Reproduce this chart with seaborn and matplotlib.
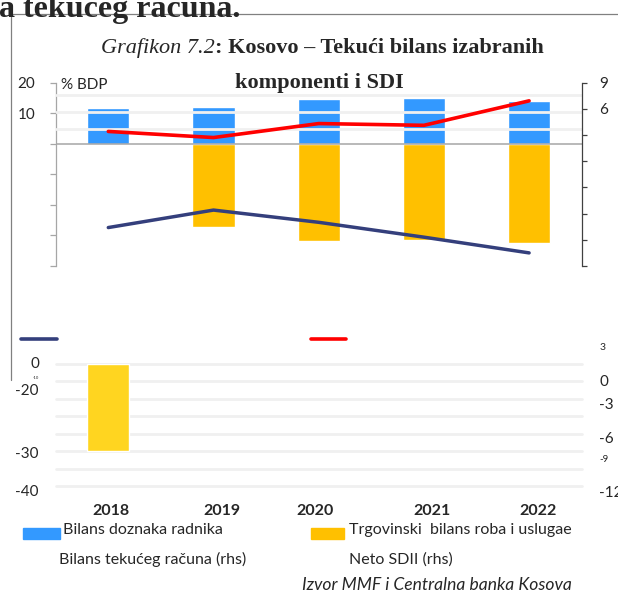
import numpy as np
import matplotlib
matplotlib.use('Agg')
import matplotlib.pyplot as plt
from matplotlib.lines import Line2D
from matplotlib.patches import Rectangle
import seaborn as sns

# Data (% of GDP)
years = ['2018', '2019', '2020', '2021', '2022']
remittances = [11.6, 12.1, 14.5, 15.0, 14.0]          # Bilans doznaka radnika
trade_balance = [-30.0, -27.2, -31.8, -31.5, -32.6]   # Trgovinski bilans roba i usluga
current_account = [-7.6, -5.6, -7.0, -8.7, -10.5]     # Bilans tekuceg racuna (rhs)
net_fdi = [3.4, 2.7, 4.3, 4.1, 6.9]                   # Neto SDII (rhs)

left_ticks = [20, 10, 0, -10, -20, -30, -40]
right_ticks = [9, 6, 3, 0, -3, -6, -9, -12]

W, H = 618, 595
BLUE = '#3399FF'
ORANGE = '#FFC000'
LIGHT_YELLOW = '#FFD520'
NAVY = '#343F7C'
RED = '#FF0000'
GRID = '#F0F0F0'


def fx(px):
    return px / W


def fy(py):
    return 1 - py / H


sns.set_style('white')
plt.rcParams['font.family'] = ['Lato', 'DejaVu Sans']

fig = plt.figure(figsize=(W / 100, H / 100), dpi=100)

# --- upper panel -------------------------------------------------------
ax = fig.add_axes([fx(55.7), fy(266), 526 / W, (266 - 82.5) / H])
sns.barplot(x=years, y=remittances, order=years, color=BLUE, saturation=1,
            width=0.4, errorbar=None, ax=ax, zorder=2)
trade_top = [np.nan] + trade_balance[1:]
sns.barplot(x=years, y=trade_top, order=years, color=ORANGE, saturation=1,
            width=0.4, errorbar=None, ax=ax, zorder=2)
for g in [4.8, 10.4, 15.9]:
    ax.axhline(g, color=GRID, lw=2, zorder=3)
ax.axhline(0, color='#A6A6A6', lw=1.1, zorder=4)
ax.set_xlim(-0.5, 4.5)
ax.set_ylim(-40, 20)
ax.set_xticks([])
ax.set_xlabel('')
ax.set_ylabel('')
ax.set_yticks(left_ticks)
ax.set_yticklabels(['20', '10', '', '', '', '', ''])
ax.tick_params(axis='y', direction='out', length=4.6, width=0.9,
               color='#A6A6A6', pad=10, labelsize=11)
for side in ['top', 'right', 'bottom']:
    ax.spines[side].set_visible(False)
ax.spines['left'].set_color('#A6A6A6')
ax.spines['left'].set_linewidth(0.9)

ax2 = ax.twinx()
pos = np.arange(len(years))
sns.lineplot(x=pos, y=current_account, color=NAVY, lw=2.5, errorbar=None,
             legend=False, ax=ax2)
sns.lineplot(x=pos, y=net_fdi, color=RED, lw=2.6, errorbar=None,
             legend=False, ax=ax2)
ax2.set_ylim(-12, 9)
ax2.set_xlim(-0.5, 4.5)
ax2.set_yticks(right_ticks)
ax2.set_yticklabels(['9', '6', '', '', '', '', '', ''])
ax2.set_ylabel('')
ax2.tick_params(axis='y', direction='out', length=3.6, width=0.9,
                color='#404040', pad=9, labelsize=11)
for side in ['top', 'left', 'bottom']:
    ax2.spines[side].set_visible(False)
ax2.spines['right'].set_color('#404040')
ax2.spines['right'].set_linewidth(0.9)

# --- lower panel (displaced 2018 bar) ------------------------------------
ax_b = fig.add_axes([fx(55.7), fy(486), 526 / W, (486 - 364) / H])
for g in range(0, -43, -6):
    ax_b.axhline(g, color=GRID, lw=2, zorder=1, clip_on=False)
sns.barplot(x=years[:1], y=trade_balance[:1], order=years, color=LIGHT_YELLOW,
            saturation=1, width=0.4, errorbar=None, ax=ax_b, zorder=2)
ax_b.set_xlim(-0.5, 4.5)
ax_b.set_ylim(-42, 0)
ax_b.axis('off')

# --- texts ---------------------------------------------------------------
serif = 'Liberation Serif'
fig.text(-0.002, fy(17), 'a tekuceg racuna.', family=serif, weight='bold',
         size=23, va='baseline')
fig.text(fx(215), fy(53.3), 'Grafikon 7.2', family=serif, style='italic',
         size=16, ha='right', va='baseline')
fig.text(fx(215), fy(53.3), ': Kosovo – Tekući bilans izabranih', family=serif,
         weight='bold', size=16, ha='left', va='baseline')
fig.text(fx(319), fy(88.3), 'komponenti i SDI', family=serif, weight='bold',
         size=16, ha='center', va='baseline')
fig.text(fx(61), fy(89.3), '% BDP', size=11, va='baseline')

# stray axis labels of the lower panel
for txt, y, s in [('0', 363.6, 11), ('-10', 377.7, 3), ('-20', 390.7, 11),
                  ('-30', 454, 11), ('-40', 492.3, 11)]:
    fig.text(fx(39), fy(y), txt, size=s, ha='right', va='center')
for txt, y, s in [('3', 347.3, 7.5), ('0', 382.3, 11), ('-3', 405, 11),
                  ('-6', 439.3, 11), ('-9', 459.3, 7), ('-12', 493.3, 11)]:
    fig.text(fx(599.5), fy(y), txt, size=s, ha='left', va='center')

# year labels
year_x = [110.5, 221.7, 315, 432, 538.3]
for yr, x in zip(years, year_x):
    fig.text(fx(x), fy(515), yr, size=11.5, weight='bold', ha='center',
             va='baseline')

# legend
fig.add_artist(Line2D([fx(21), fx(57)], [fy(339), fy(339)], color=NAVY,
                      lw=2.6, solid_capstyle='round'))
fig.add_artist(Line2D([fx(311), fx(346)], [fy(339), fy(339)], color=RED,
                      lw=2.6, solid_capstyle='round'))
fig.add_artist(Rectangle((fx(22.7), fy(538.7)), 37.3 / W, 10.4 / H,
                         color=BLUE, transform=fig.transFigure))
fig.add_artist(Rectangle((fx(310.7), fy(538.7)), 33.3 / W, 10.4 / H,
                         color=ORANGE, transform=fig.transFigure))
fig.text(fx(63.3), fy(534), 'Bilans doznaka radnika', size=11.5, va='baseline')
fig.text(fx(349.3), fy(534), 'Trgovinski  bilans roba i uslugae', size=11.5,
         va='baseline')
fig.text(fx(58.7), fy(564), 'Bilans tekućeg računa (rhs)', size=11.5,
         va='baseline')
fig.text(fx(349), fy(564), 'Neto SDII (rhs)', size=11.5, va='baseline')
fig.text(fx(301.7), fy(590), 'Izvor MMF i Centralna banka Kosova', size=12.6,
         style='italic', va='baseline')

# frame lines
fig.add_artist(Line2D([fx(10.5), fx(10.5)], [fy(13.5), fy(380)],
                      color='#808080', lw=0.9))
fig.add_artist(Line2D([fx(10.5), 1], [fy(13.5), fy(13.5)],
                      color='#808080', lw=0.9))

fig.savefig('out.png', dpi=100)
